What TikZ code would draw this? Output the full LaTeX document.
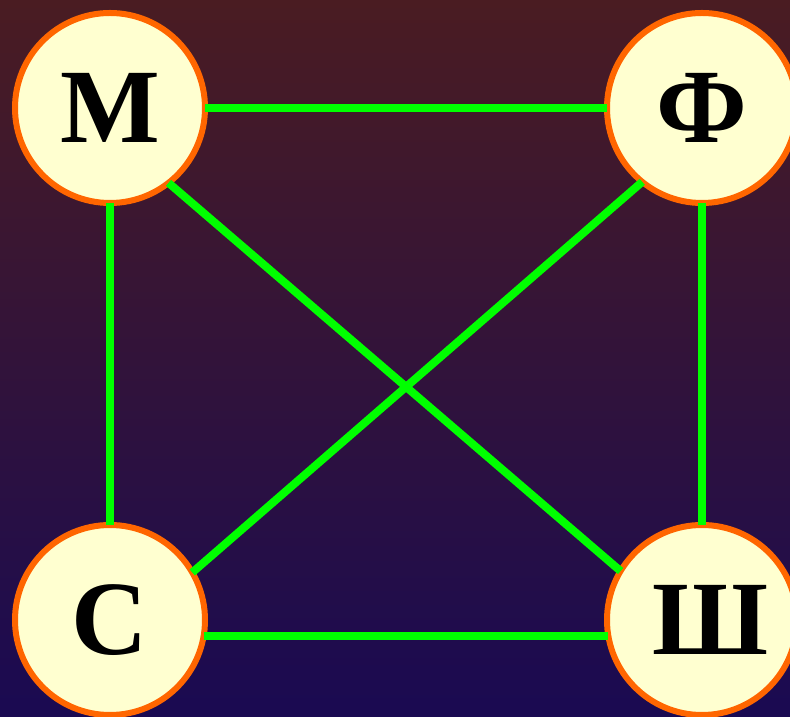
\documentclass[tikz,border=0pt]{standalone}
\usepackage{fontspec}
\setmainfont{Liberation Serif}
\definecolor{bgtop}{RGB}{74,28,34}
\definecolor{bgbottom}{RGB}{26,10,82}
\definecolor{cream}{HTML}{FFFFD0}
\definecolor{ember}{HTML}{FF6600}
\definecolor{lime}{HTML}{00FF00}

\begin{document}
\begin{tikzpicture}[x=1bp, y=1bp,
  subject/.style={circle, draw=ember, fill=cream, line width=6bp,
    minimum size=190bp, inner sep=0pt, outer sep=0pt,
    font=\fontsize{106}{106}\selectfont\bfseries},
  link/.style={lime, line width=8bp}]

% Background
\useasboundingbox (0,0) rectangle (790,717);
\shade[top color=bgtop, bottom color=bgbottom] (0,0) rectangle (790,717);

% Subjects (centres: left x=110, right x=702, top y=609, bottom y=97)
\node[subject] (math) at (110,609) {М};
\node[subject] (phys) at (702,609) {Ф};
\node[subject] (chem) at (110,97) {С};
\node[subject] (scho) at (702,97) {\kern16bpШ};

% Links
\draw[link] (math.east) -- (phys.west);
\draw[link] (math.south) -- (chem.north);
\draw[link] (phys.south) -- (scho.north);
\draw[link] (chem.-10) -- (scho.190);
\draw[link] (math.-52) -- (scho.149);
\draw[link] (phys.-129) -- (chem.30);

\end{tikzpicture}
\end{document}
